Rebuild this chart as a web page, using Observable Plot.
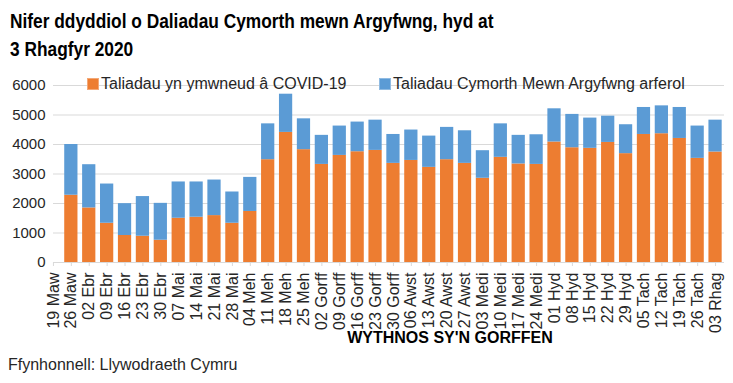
<!DOCTYPE html>
<html><head><meta charset="utf-8">
<script src="https://cdn.jsdelivr.net/npm/d3@7"></script>
<script src="https://cdn.jsdelivr.net/npm/@observablehq/plot@0.6"></script>
<style>
body{margin:0;background:#fff;font-family:"Liberation Sans",Arial,sans-serif;color:#262626}
#wrap{position:relative;width:733px;height:383px;overflow:hidden;background:#fff}
#title{position:absolute;left:10px;top:6.5px;font-weight:bold;font-size:20.5px;line-height:28px;transform:scaleX(0.845);transform-origin:0 0;white-space:nowrap;color:#000}
#chart{position:absolute;left:0;top:68px}
.leg{position:absolute;top:75px;height:18px;line-height:18px;font-size:16px;white-space:nowrap;display:flex;align-items:center;color:#262626}
.sw{width:12px;height:12px;margin-right:2px;display:inline-block;box-sizing:border-box}
#source{position:absolute;left:8px;top:355px;font-size:16px;line-height:20px;color:#262626}
</style></head>
<body>
<div id="wrap">
  <div id="title">Nifer ddyddiol o Daliadau Cymorth mewn Argyfwng, hyd at<br>3 Rhagfyr 2020</div>
  <div id="chart"></div>
  <div id="legend"></div>
  <div id="source">Ffynhonnell: Llywodraeth Cymru</div>
</div>
<script>
const weeks = ["19 Maw","26 Maw","02 Ebr","09 Ebr","16 Ebr","23 Ebr","30 Ebr","07 Mai","14 Mai","21 Mai","28 Mai","04 Meh","11 Meh","18 Meh","25 Meh","02 Gorff","09 Gorff","16 Gorff","23 Gorff","30 Gorff","06 Awst","13 Awst","20 Awst","27 Awst","03 Medi","10 Medi","17 Medi","24 Medi","01 Hyd","08 Hyd","15 Hyd","22 Hyd","29 Hyd","05 Tach","12 Tach","19 Tach","26 Tach","03 Rhag"];
const covid = [null,2280,1850,1330,915,890,755,1500,1535,1590,1330,1730,3485,4410,3825,3325,3630,3755,3800,3360,3460,3225,3485,3360,2855,3565,3340,3325,4085,3890,3870,4070,3690,4340,4365,4205,3530,3745];
const regular = [null,1720,1465,1330,1080,1345,1250,1230,1195,1205,1060,1155,1215,1295,1045,985,995,1005,1025,980,1030,1060,1095,1105,935,1135,970,1005,1125,1130,1025,890,980,915,945,1050,1095,1080];
const seriesNames = ["Taliadau yn ymwneud â COVID-19","Taliadau Cymorth Mewn Argyfwng arferol"];
const seriesColors = ["#ED7D31","#5B9BD5"];
const yTicks = [0,1000,2000,3000,4000,5000,6000];
const xTitle = "WYTHNOS SY'N GORFFEN";

const rows = [];
weeks.forEach((w,i)=>{
  if (covid[i] != null) rows.push({week:w, series:seriesNames[0], value:covid[i]});
  if (regular[i] != null) rows.push({week:w, series:seriesNames[1], value:regular[i]});
});

const chart = Plot.plot({
  width:733, height:290,
  marginTop:17, marginBottom:96, marginLeft:53, marginRight:9,
  style:{fontFamily:"'Liberation Sans', Arial, sans-serif", fontSize:"15px", color:"#262626", background:"transparent"},
  x:{type:"band", domain:weeks, range:[44,724], paddingInner:0.26, paddingOuter:0.13, round:false, label:null},
  y:{domain:[0,6000], label:null},
  color:{domain:seriesNames, range:seriesColors},
  marks:[
    Plot.gridY(yTicks, {stroke:"#d9d9d9", strokeOpacity:1}),
    Plot.barY(rows, {x:"week", y:"value", fill:"series"}),
    Plot.ruleY([0], {stroke:"#d9d9d9"}),
    Plot.axisY({ticks:yTicks, tickFormat:d3.format("d"), tickSize:0, tickPadding:8, fontSize:15, label:null}),
    Plot.axisX({tickSize:4, tickRotate:-90, tickPadding:6, fontSize:16, label:null, stroke:"#d9d9d9", fill:"#262626"}),
    Plot.text([xTitle], {text:d=>d, frameAnchor:"bottom", dx:61, dy:80, fontWeight:"bold", fontSize:16, fill:"#000"})
  ]
});
document.getElementById("chart").appendChild(chart);

const lg = document.getElementById("legend");
const legLeft = [87, 379];
seriesNames.forEach((s,i)=>{
  const d = document.createElement("div");
  d.className = "leg";
  d.style.left = legLeft[i] + "px";
  d.innerHTML = `<span class="sw" style="background:${seriesColors[i]};border:1px solid ${i ? "#8fbbe3" : "#f3a877"}"></span>${s}`;
  lg.appendChild(d);
});
</script>
</body></html>
